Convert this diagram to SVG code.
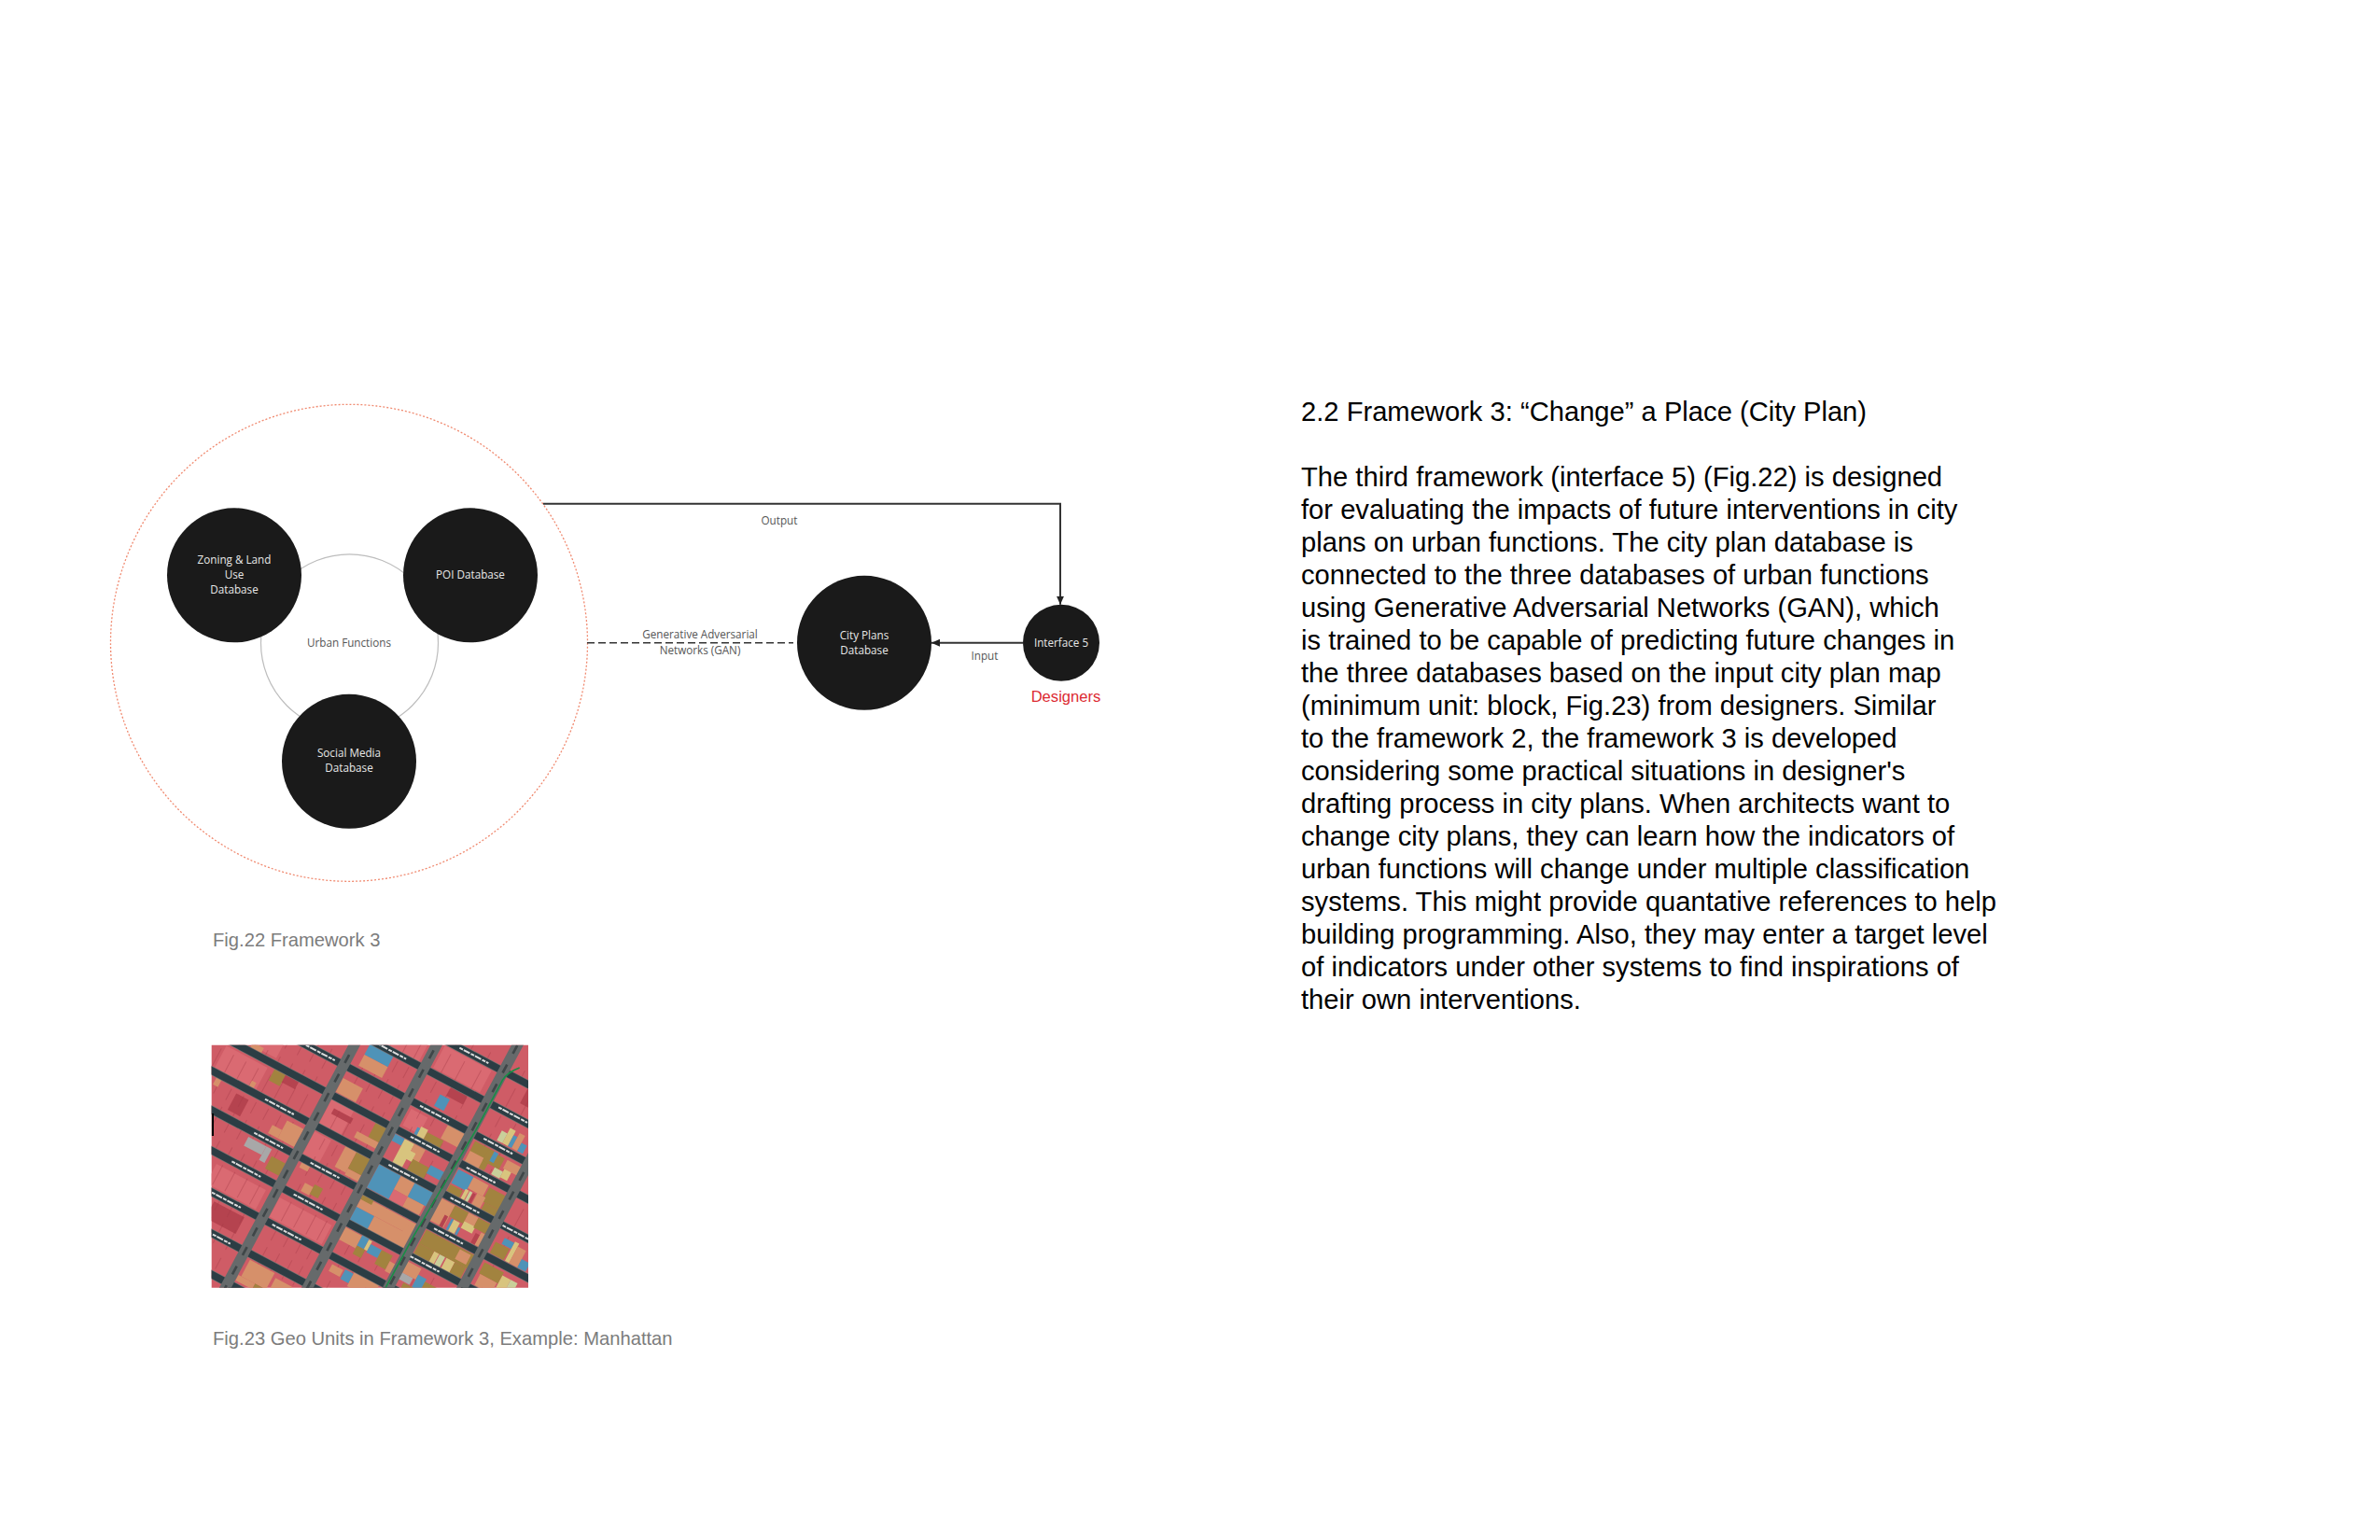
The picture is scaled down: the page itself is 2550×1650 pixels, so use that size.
<svg xmlns="http://www.w3.org/2000/svg" width="2550" height="1650" viewBox="0 0 2550 1650">
<style>
text{font-family:"Open Sans","Liberation Sans",sans-serif;font-size:11.7px;text-anchor:middle}
.w{fill:#e8e8e8}
.g{fill:#555}
.dk{fill:#1a1a1a}
.body{font-family:"Liberation Sans",Arial,sans-serif;font-size:29.17px;text-anchor:start;fill:#000}
.cap{font-family:"Liberation Sans",Arial,sans-serif;font-size:20.2px;text-anchor:start;fill:#7c7c7c}
.con{fill:none;stroke:#333;stroke-width:2}
.s{fill:#2c3d44}.sw{fill:#7a7373}.av{fill:#666a6b}.ix{fill:#83878a}
.lb{stroke:#dcdcdc;stroke-width:6;stroke-dasharray:12 3 22 4;fill:none}
.R{fill:#cf5c66}.D{fill:#b5434f}.L{fill:#da6a72}.O{fill:#d6906a}.V{fill:#a2833f}.B{fill:#4f93b8}.Y{fill:#d8c47e}.P{fill:#c9cf9a}.G{fill:#a8a8a8}
</style>
<defs>
<marker id="ah" markerUnits="userSpaceOnUse" markerWidth="10" markerHeight="10" refX="9" refY="5" orient="auto"><path d="M0 1L9 5L0 9z" fill="#222"/></marker>
<clipPath id="mc"><rect x="226.7" y="1119.7" width="339.3" height="260"/></clipPath>
</defs>

<g transform="translate(0 .8)">
<g id="framework-boundary"><circle cx="374" cy="688" r="255.5" fill="none" stroke="#f08a70" stroke-width="1.3" stroke-dasharray="2 2"/></g>
<g id="urban-functions"><circle cx="374.5" cy="688" r="95" fill="none" stroke="#bdbdbd" stroke-width="1.2"/><text class="g" x="374" y="692">Urban Functions</text></g>

<g id="connectors">
<path class="con" d="M582 539H1136V647" marker-end="url(#ah)"/>
<path class="con" d="M1096 688H998" marker-end="url(#ah)"/>
<path class="con" d="M629 688H850" style="stroke-width:1.4;stroke-dasharray:8 4"/>
<text class="g" x="835" y="561">Output</text>
<text class="g" x="750" y="683.5">Generative Adversarial</text>
<text class="g" x="750" y="700">Networks (GAN)</text>
<text class="g" x="1055" y="706.5">Input</text>
</g>

<g id="zoning"><circle class="dk" cx="251" cy="615.5" r="72"/><text class="w" x="251" y="603">Zoning &amp; Land</text><text class="w" x="251" y="619">Use</text><text class="w" x="251" y="635">Database</text></g>
<g id="poi"><circle class="dk" cx="504" cy="615.5" r="72"/><text class="w" x="504" y="619">POI Database</text></g>
<g id="social"><circle class="dk" cx="374" cy="815" r="72"/><text class="w" x="374" y="810">Social Media</text><text class="w" x="374" y="826">Database</text></g>
<g id="city-plans"><circle class="dk" cx="926" cy="688" r="72"/><text class="w" x="926" y="684">City Plans</text><text class="w" x="926" y="700">Database</text></g>
<g id="interface-5"><circle class="dk" cx="1137" cy="688" r="41"/><text class="w" x="1137" y="692">Interface 5</text></g>
<text id="designers" x="1142" y="751" style="font-family:'Liberation Sans',Arial,sans-serif;font-size:16.6px;fill:#dc2a32">Designers</text>
</g>

<text class="cap" x="228" y="1014">Fig.22 Framework 3</text>
<text class="cap" x="228" y="1441">Fig.23 Geo Units in Framework 3, Example: Manhattan</text>

<g id="map" clip-path="url(#mc)">
<rect x="226" y="1119" width="341" height="262" fill="#cf5c66"/>
<g transform="translate(210 1110.7) scale(.33333) rotate(28)">
<!-- block colouring -->
<rect class="L" x="480" y="-350" width="190" height="90"/><rect class="L" x="60" y="-150" width="200" height="90"/>
<rect class="D" x="300" y="-30" width="60" height="30"/><rect class="L" x="100" y="-20" width="150" height="80"/><rect class="D" x="200" y="100" width="45" height="60"/>
<rect class="L" x="480" y="-30" width="80" height="90"/><rect class="D" x="500" y="-5" width="70" height="20"/>
<rect class="L" x="480" y="90" width="60" height="80"/><rect class="D" x="300" y="440" width="110" height="60"/><rect class="L" x="60" y="440" width="200" height="70"/>
<rect class="L" x="250" y="330" width="180" height="70"/><rect class="L" x="480" y="330" width="190" height="70"/>
<rect class="D" x="800" y="-250" width="60" height="40"/><rect class="L" x="720" y="-120" width="60" height="60"/>
<rect class="D" x="1020" y="-360" width="80" height="60"/><rect class="L" x="720" y="-350" width="170" height="80"/>
<path d="M90-500V700M135-500V700M180-500V700M225-500V700M270-500V700M315-500V700M360-500V700M405-500V700M520-500V700M565-500V700M610-500V700M650-500V700M750-500V700M800-500V700M860-500V700M985-500V700M1040-500V700M1190-500V700" fill="none" stroke="#a63c48" stroke-opacity=".4" stroke-width="3" stroke-dasharray="70 30 40 25"/>
<rect class="B" x="505" y="-245" width="85" height="42"/><rect class="O" x="505" y="-203" width="85" height="40"/>
<rect class="O" x="480" y="-105" width="72" height="50"/>
<rect class="V" x="272" y="-28" width="40" height="42"/>
<rect class="B" x="780" y="-205" width="35" height="42"/>
<rect class="V" x="640" y="-30" width="40" height="55"/><rect class="O" x="600" y="25" width="80" height="22"/>
<rect class="O" x="848" y="-130" width="62" height="50"/><rect class="V" x="800" y="-78" width="60" height="35"/><rect class="Y" x="775" y="-85" width="25" height="35"/><rect class="B" x="765" y="-78" width="10" height="25"/>
<rect class="O" x="170" y="-70" width="40" height="18"/><rect class="O" x="120" y="60" width="18" height="50"/><rect class="O" x="225" y="40" width="16" height="30"/>
<rect class="O" x="385" y="100" width="60" height="65"/><rect class="O" x="350" y="135" width="35" height="30"/>
<rect class="G" x="300" y="205" width="65" height="32"/><rect class="G" x="365" y="205" width="20" height="50"/>
<rect class="V" x="395" y="225" width="50" height="45"/>
<rect class="O" x="590" y="85" width="40" height="75"/><rect class="V" x="630" y="85" width="50" height="60"/><rect class="O" x="630" y="145" width="50" height="22"/>
<rect class="O" x="530" y="250" width="30" height="30"/><rect class="V" x="560" y="240" width="30" height="35"/><rect class="O" x="490" y="195" width="30" height="20"/>
<!-- column 710-910 -->
<rect class="B" x="712" y="-25" width="35" height="25"/><rect class="Y" x="747" y="-25" width="35" height="90"/><rect class="O" x="782" y="-25" width="40" height="50"/><rect class="V" x="800" y="20" width="60" height="45"/><rect class="Y" x="760" y="0" width="40" height="30"/><rect class="B" x="860" y="10" width="50" height="30"/>
<rect class="B" x="712" y="85" width="80" height="85"/><rect class="O" x="792" y="85" width="50" height="50"/><rect class="B" x="842" y="85" width="68" height="50"/><rect class="O" x="842" y="135" width="60" height="35"/><rect class="L" x="792" y="135" width="50" height="35"/>
<rect class="B" x="712" y="240" width="65" height="50"/><rect class="O" x="712" y="200" width="198" height="40"/><rect class="V" x="712" y="195" width="40" height="18"/><rect class="O" x="777" y="240" width="133" height="50"/><rect class="O" x="880" y="215" width="30" height="70"/>
<rect class="O" x="712" y="315" width="60" height="45"/><rect class="B" x="772" y="310" width="25" height="40"/><rect class="Y" x="797" y="315" width="12" height="35"/><rect class="B" x="809" y="325" width="40" height="30"/><rect class="V" x="849" y="325" width="40" height="50"/><rect class="V" x="772" y="350" width="30" height="30"/><rect class="O" x="889" y="345" width="21" height="35"/>
<rect class="B" x="775" y="435" width="30" height="35"/><rect class="O" x="805" y="430" width="90" height="50"/><rect class="O" x="730" y="440" width="40" height="25"/>
<!-- column 940-1120 -->
<rect class="Y" x="1030" y="-215" width="20" height="55"/><rect class="B" x="1050" y="-200" width="14" height="40"/><rect class="O" x="1064" y="-215" width="20" height="55"/><rect class="B" x="1084" y="-190" width="20" height="30"/><rect class="P" x="1010" y="-195" width="20" height="35"/>
<rect class="V" x="950" y="-125" width="70" height="70"/><rect class="O" x="950" y="-90" width="50" height="40"/><rect class="V" x="1000" y="-120" width="60" height="40"/><rect class="O" x="1070" y="-120" width="50" height="30"/><rect class="P" x="1045" y="-80" width="30" height="25"/><rect class="Y" x="1075" y="-90" width="25" height="30"/><rect class="B" x="1020" y="-125" width="15" height="35"/>
<rect class="B" x="945" y="-20" width="55" height="50"/><rect class="O" x="1000" y="-20" width="55" height="40"/><rect class="V" x="1060" y="-15" width="60" height="50"/><rect class="V" x="945" y="35" width="45" height="25"/><rect class="Y" x="995" y="25" width="12" height="35"/><rect class="P" x="1010" y="25" width="10" height="35"/><rect class="D" x="1022" y="25" width="10" height="35"/><rect class="O" x="1035" y="20" width="30" height="40"/><rect class="V" x="1070" y="35" width="50" height="25"/>
<rect class="O" x="940" y="88" width="50" height="80"/><rect class="V" x="990" y="88" width="50" height="40"/><rect class="O" x="1040" y="88" width="35" height="30"/><rect class="Y" x="1040" y="118" width="40" height="25"/><rect class="V" x="1075" y="88" width="45" height="35"/><rect class="B" x="1000" y="130" width="8" height="40"/><rect class="Y" x="1008" y="130" width="22" height="40"/><rect class="B" x="1032" y="145" width="8" height="25"/><rect class="D" x="1090" y="135" width="15" height="35"/><rect class="O" x="1105" y="125" width="15" height="45"/><rect class="D" x="975" y="130" width="12" height="40"/>
<rect class="V" x="945" y="200" width="175" height="50"/><rect class="Y" x="1000" y="250" width="18" height="40"/><rect class="P" x="1020" y="250" width="20" height="40"/><rect class="V" x="945" y="250" width="55" height="38"/><rect class="O" x="1070" y="205" width="40" height="35"/><rect class="Y" x="1045" y="250" width="30" height="40"/><rect class="V" x="1075" y="250" width="40" height="38"/>
<rect class="O" x="940" y="318" width="50" height="40"/><rect class="G" x="940" y="358" width="40" height="24"/><rect class="B" x="990" y="340" width="30" height="45"/><rect class="V" x="1020" y="350" width="70" height="40"/><rect class="V" x="960" y="385" width="50" height="25"/>
<!-- right column -->
<rect class="B" x="1180" y="105" width="35" height="22"/><rect class="V" x="1160" y="130" width="50" height="40"/><rect class="Y" x="1215" y="100" width="15" height="70"/><rect class="O" x="1230" y="110" width="30" height="60"/><rect class="B" x="1260" y="140" width="30" height="30"/>
<rect class="V" x="1160" y="205" width="70" height="40"/><rect class="O" x="1165" y="245" width="60" height="40"/><rect class="Y" x="1230" y="215" width="30" height="50"/><rect class="P" x="1260" y="215" width="25" height="50"/>
<rect class="P" x="1150" y="-50" width="30" height="12"/><rect class="L" x="1180" y="-125" width="60" height="50"/>
<!-- bottom left -->
<rect class="O" x="490" y="552" width="90" height="60"/><rect class="V" x="540" y="612" width="45" height="25"/><rect class="O" x="590" y="565" width="60" height="50"/><rect class="O" x="480" y="612" width="60" height="20"/>
<!-- streets -->
<rect class="sw" x="-100" y="-379" width="1500" height="27"/><rect class="s" x="-100" y="-377" width="1500" height="23"/>
<rect class="sw" x="-100" y="-267" width="1500" height="27"/><rect class="s" x="-100" y="-265" width="1500" height="23"/>
<rect class="sw" x="-100" y="-156" width="1500" height="27"/><rect class="s" x="-100" y="-154" width="1500" height="23"/>
<rect class="sw" x="-100" y="-53" width="1500" height="27"/><rect class="s" x="-100" y="-51" width="1500" height="23"/>
<rect class="sw" x="-100" y="59" width="1500" height="27"/><rect class="s" x="-100" y="61" width="1500" height="23"/>
<rect class="sw" x="-100" y="171" width="1500" height="27"/><rect class="s" x="-100" y="173" width="1500" height="23"/>
<rect class="sw" x="-100" y="286" width="1500" height="27"/><rect class="s" x="-100" y="288" width="1500" height="23"/>
<rect class="sw" x="-100" y="404" width="1500" height="27"/><rect class="s" x="-100" y="406" width="1500" height="23"/>
<rect class="sw" x="-100" y="521" width="1500" height="27"/><rect class="s" x="-100" y="523" width="1500" height="23"/>
<rect class="sw" x="-100" y="638" width="1500" height="27"/><rect class="s" x="-100" y="640" width="1500" height="23"/>
<!-- avenues -->
<rect class="av" x="445" y="-600" width="34" height="1350"/><rect class="av" x="678" y="-600" width="34" height="1350"/><rect class="av" x="908" y="-600" width="34" height="1350"/><rect class="av" x="1118" y="-600" width="34" height="1350"/>
<path d="M462-600V750M695-600V750M925-600V750M1135-600V750" fill="none" stroke="#3f4648" stroke-width="8" stroke-dasharray="30 40"/>
<!-- street names -->
<path class="lb" d="M325-142h105M525-254h105M765-366h105M740-142h105M290 73h105M310 185h105M290 300h105M280 418h105M305 536h105M515 185h105M515 300h105M500 418h105M740 73h105M760-40h105M970-145h105M965-37h105M965 73h105M965 185h105M940 300h105M1155 73h105M965-256h105"/>
</g>
<path d="M1040 100Q1000 115 985 140L900 300L800 470L700 640L610 806" transform="translate(210 1110.7) scale(.33333)" fill="none" stroke="#178f45" stroke-width="4.5"/>
<rect x="226.7" y="1193" width="2.3" height="24" fill="#000"/>
</g>

<g id="body-text" transform="translate(0 1.6)">
<text class="body" x="1394" y="449">2.2 Framework 3: “Change” a Place (City Plan)</text>
<text class="body" x="1394" y="519">The third framework (interface 5) (Fig.22) is designed</text>
<text class="body" x="1394" y="554">for evaluating the impacts of future interventions in city</text>
<text class="body" x="1394" y="589">plans on urban functions. The city plan database is</text>
<text class="body" x="1394" y="624">connected to the three databases of urban functions</text>
<text class="body" x="1394" y="659">using Generative Adversarial Networks (GAN), which</text>
<text class="body" x="1394" y="694">is trained to be capable of predicting future changes in</text>
<text class="body" x="1394" y="729">the three databases based on the input city plan map</text>
<text class="body" x="1394" y="764">(minimum unit: block, Fig.23) from designers. Similar</text>
<text class="body" x="1394" y="799">to the framework 2, the framework 3 is developed</text>
<text class="body" x="1394" y="834">considering some practical situations in designer's</text>
<text class="body" x="1394" y="869">drafting process in city plans. When architects want to</text>
<text class="body" x="1394" y="904">change city plans, they can learn how the indicators of</text>
<text class="body" x="1394" y="939">urban functions will change under multiple classification</text>
<text class="body" x="1394" y="974">systems. This might provide quantative references to help</text>
<text class="body" x="1394" y="1009">building programming. Also, they may enter a target level</text>
<text class="body" x="1394" y="1044">of indicators under other systems to find inspirations of</text>
<text class="body" x="1394" y="1079">their own interventions.</text>
</g>
</svg>
